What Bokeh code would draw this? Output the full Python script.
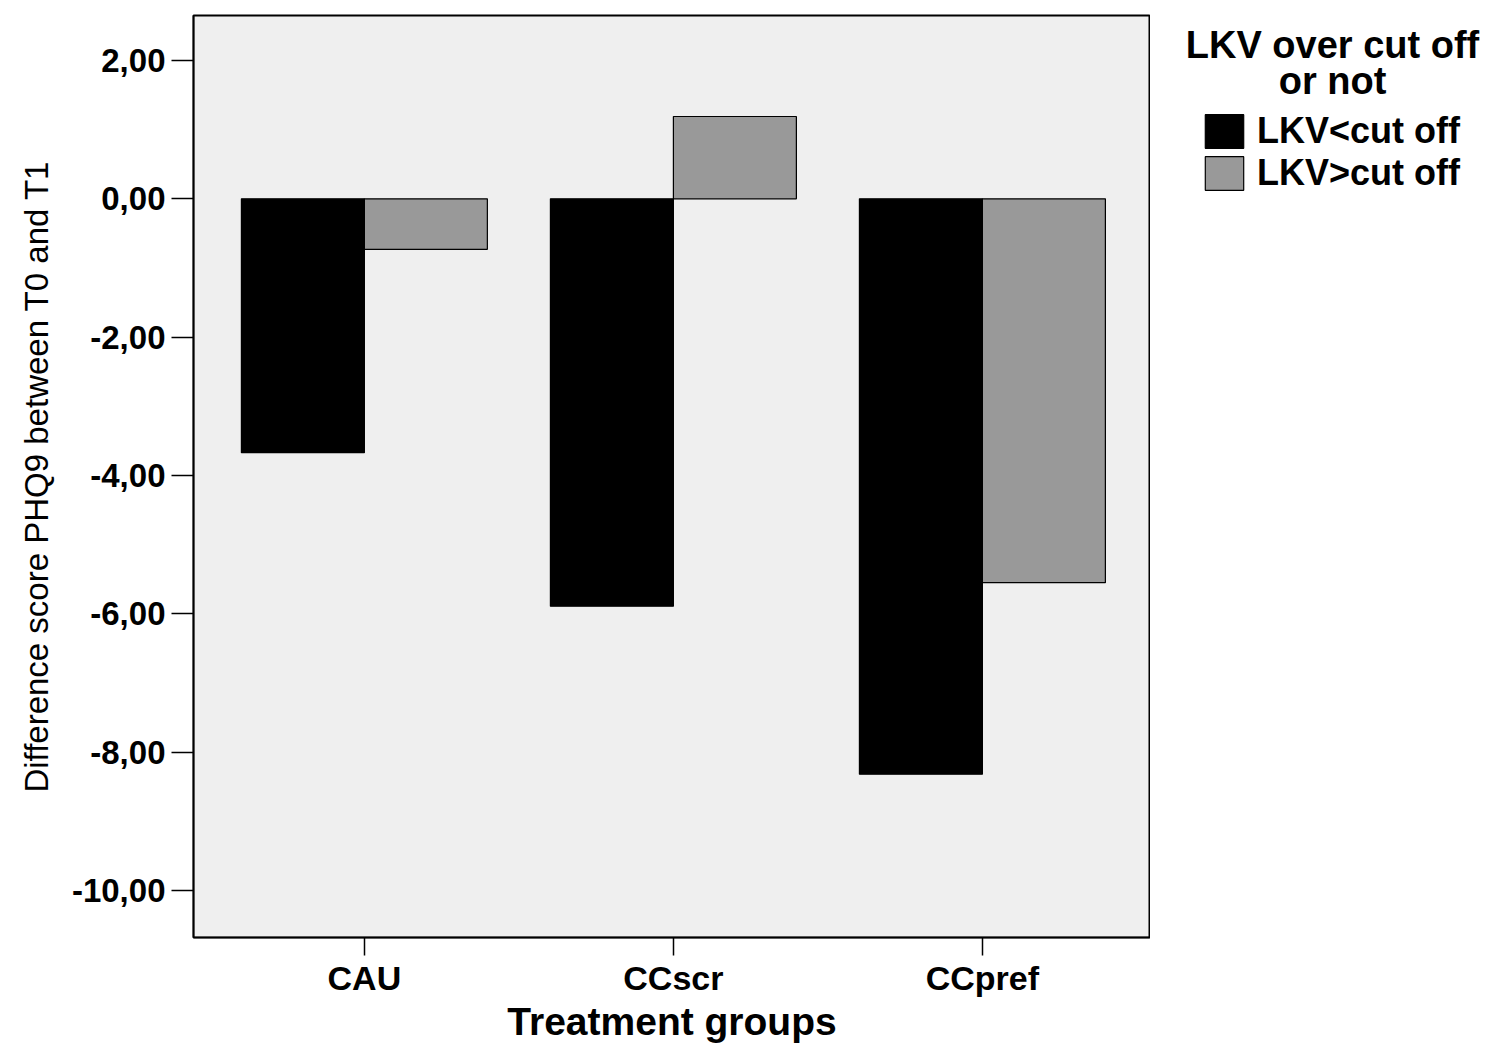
from bokeh.plotting import figure
from bokeh.layouts import row, column
from bokeh.models import (ColumnDataSource, Legend, LegendItem, Label,
                          FixedTicker, Range1d)
from bokeh.transform import dodge
from bokeh.embed import file_html
from bokeh.resources import INLINE

# ---- data ----
groups = ["CAU", "CCscr", "CCpref"]
below_cut = [-3.67, -5.89, -8.32]   # LKV<cut off
above_cut = [-0.73, 1.19, -5.55]    # LKV>cut off
series_names = ["LKV<cut off", "LKV>cut off"]
series_colors = ["black", "#999999"]
y_ticks = [2, 0, -2, -4, -6, -8, -10]
legend_title = ["LKV over cut off", "or not"]
x_title = "Treatment groups"
y_title = "Difference score PHQ9 between T0 and T1"

FONT = "Liberation Sans"
H = 1045
x_idx = list(range(len(groups)))
src = ColumnDataSource(dict(x=x_idx, below=below_cut, above=above_cut,
                            zero=[0] * len(groups)))

p = figure(width=1150, height=H,
           x_range=Range1d(-0.553, 2.544), y_range=Range1d(-10.68, 2.65),
           output_backend="svg", toolbar_location=None,
           min_border_left=193, min_border_top=15, min_border_right=0,
           min_border_bottom=108)

p.background_fill_color = "#efefef"
p.border_fill_color = "white"
p.outline_line_color = "black"
p.outline_line_width = 2
p.xgrid.visible = False
p.ygrid.visible = False

bw = 0.398
r1 = p.vbar(x=dodge("x", -bw / 2, range=p.x_range), width=bw, top="zero",
            bottom="below", source=src, fill_color=series_colors[0],
            line_color="black", line_width=1.2)
r2 = p.vbar(x=dodge("x", bw / 2, range=p.x_range), width=bw, top="zero",
            bottom="above", source=src, fill_color=series_colors[1],
            line_color="black", line_width=1.2)

# axes
xa = p.xaxis[0]
xa.ticker = FixedTicker(ticks=x_idx)
xa.major_label_overrides = {i: g for i, g in zip(x_idx, groups)}
xa.axis_label = x_title
ya = p.yaxis[0]
ya.ticker = FixedTicker(ticks=y_ticks)
ya.major_label_overrides = {t: f"{t:.2f}".replace(".", ",") for t in y_ticks}
ya.axis_label = y_title

for ax in (xa, ya):
    ax.minor_tick_line_color = None
    ax.major_tick_in = 0
    ax.major_tick_line_color = "black"
    ax.major_tick_line_width = 1.5
    ax.axis_line_color = "black"
    ax.axis_line_width = 1.5
    ax.major_label_text_font = FONT
    ax.major_label_text_font_style = "bold"
    ax.major_label_text_color = "black"
    ax.axis_label_text_font = FONT
    ax.axis_label_text_color = "black"

xa.major_tick_out = 18
xa.major_label_standoff = 3
xa.major_label_text_font_size = "34px"
xa.axis_label_text_font_size = "39px"
xa.axis_label_text_font_style = "bold"
xa.axis_label_standoff = 0

ya.major_tick_out = 22
ya.major_label_standoff = 6
ya.major_label_text_font_size = "33px"
ya.axis_label_text_font_size = "33px"
ya.axis_label_text_font_style = "normal"
ya.axis_label_standoff = 14

# ---- right-hand side: legend title figure + legend figure ----
LW, TH = 330, 110
LH = H - TH
pt = figure(width=LW, height=TH, x_range=Range1d(0, LW), y_range=Range1d(TH, 0),
            output_backend="svg", toolbar_location=None, title=None,
            x_axis_type=None, y_axis_type=None,
            min_border=0, min_border_left=0, min_border_right=0,
            min_border_top=0, min_border_bottom=0)
pt.outline_line_color = None
pt.grid.visible = False
for txt, yv in zip(legend_title, [44, 80]):
    pt.add_layout(Label(x=182, y=yv, text=txt, text_align="center",
                        text_baseline="middle", text_font=FONT,
                        text_font_style="bold", text_font_size="38px",
                        text_color="black"))

pl = figure(width=LW, height=LH, x_range=Range1d(10, 290),
            y_range=Range1d(100, 200),
            output_backend="svg", toolbar_location=None, title=None,
            x_axis_type=None, y_axis_type=None,
            min_border=0, min_border_left=0, min_border_right=0,
            min_border_top=0, min_border_bottom=0)
pl.outline_line_color = None
pl.grid.visible = False

# swatch renderers (their own bars fall outside this panel's ranges)
l1 = pl.vbar(x="x", width=bw, top="zero", bottom="below", source=src,
             fill_color=series_colors[0], line_color="black", line_width=1.2)
l2 = pl.vbar(x="x", width=bw, top="zero", bottom="above", source=src,
             fill_color=series_colors[1], line_color="black", line_width=1.2)

legend = Legend(items=[LegendItem(label=series_names[0], renderers=[l1]),
                       LegendItem(label=series_names[1], renderers=[l2])],
                location=(50, LH - 84))
legend.glyph_width = 48
legend.glyph_height = 42
legend.label_height = 42
legend.spacing = 0
legend.padding = 0
legend.margin = 0
legend.label_standoff = 9
legend.label_text_font = FONT
legend.label_text_font_style = "bold"
legend.label_text_font_size = "36px"
legend.label_text_color = "black"
legend.border_line_color = None
legend.background_fill_alpha = 0
pl.add_layout(legend, "center")

layout = row(p, column(pt, pl, spacing=0), spacing=0)
open("out.html", "w").write(file_html(layout, INLINE))
